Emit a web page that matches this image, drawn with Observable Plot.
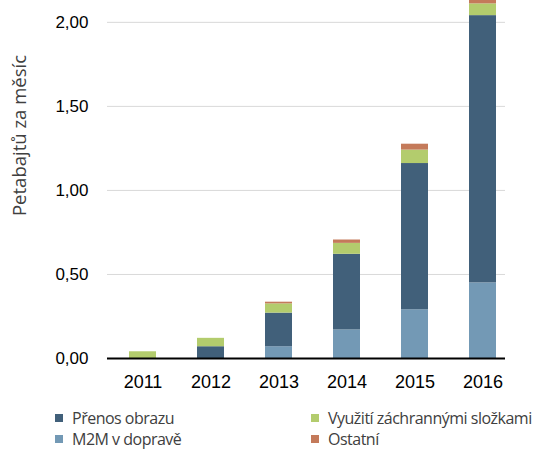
<!DOCTYPE html>
<html>
<head>
<meta charset="utf-8">
<script src="https://cdn.jsdelivr.net/npm/d3@7"></script>
<script src="https://cdn.jsdelivr.net/npm/@observablehq/plot@0.6"></script>
<style>
  html, body { margin: 0; padding: 0; background: #fff; }
  #wrap { position: relative; width: 535px; height: 455px; overflow: hidden; }
  .legend { position: absolute; font-family: "Open Sans", sans-serif; font-size: 16px; letter-spacing: -0.5px; color: #404040; white-space: nowrap; line-height: 18px; }
  .legend .sw { display: inline-block; width: 8px; height: 8px; margin-right: 9px; vertical-align: 2px; }
</style>
</head>
<body>
<div id="wrap"></div>
<script>
const years = ["2011", "2012", "2013", "2014", "2015", "2016"];
const seriesNames = ["M2M v dopravě", "Přenos obrazu", "Využití záchrannými složkami", "Ostatní"];
const m2m      = [0.00, 0.00, 0.07, 0.17, 0.29, 0.45];
const prenos   = [0.00, 0.07, 0.20, 0.45, 0.87, 1.59];
const vyuziti  = [0.04, 0.05, 0.055, 0.065, 0.08, 0.07];
const ostatni  = [0.00, 0.00, 0.01, 0.02, 0.035, 0.04];
const colors   = ["#7399b5", "#41607a", "#b3cc6d", "#c47a5a"];
const yTicks   = [0, 0.5, 1, 1.5, 2];
const yTitle   = "Petabajtů za měsíc";
const legendOrder = [
  {name: "Přenos obrazu", color: colors[1], col: 0, row: 0},
  {name: "M2M v dopravě", color: colors[0], col: 0, row: 1},
  {name: "Využití záchrannými složkami", color: colors[2], col: 1, row: 0},
  {name: "Ostatní", color: colors[3], col: 1, row: 1}
];

const allSeries = [m2m, prenos, vyuziti, ostatni];
const data = [];
years.forEach((y, i) => {
  allSeries.forEach((s, k) => data.push({year: y, series: seriesNames[k], value: s[i]}));
});

const fmt = d => d.toFixed(2).replace(".", ",");

const chart = Plot.plot({
  width: 535,
  height: 395,
  marginTop: 0,
  marginLeft: 107,
  marginRight: 30,
  marginBottom: 37,
  style: {fontFamily: "'Liberation Sans', Arial, sans-serif", fontSize: "17px", color: "#000"},
  x: {domain: years, paddingInner: 0.6, paddingOuter: 0.21, align: 0.71, label: null},
  y: {domain: [0, 2.13], label: null},
  color: {domain: seriesNames, range: colors},
  marks: [
    Plot.ruleY(yTicks.slice(1), {stroke: "#d9d9d9", strokeWidth: 1}),
    Plot.barY(data, Plot.stackY({x: "year", y: "value", fill: "series", order: seriesNames, clip: true})),
    Plot.ruleY([0], {stroke: "#000", strokeWidth: 2}),
    Plot.axisX({tickSize: 0, tickPadding: 17, fontSize: 18, label: null}),
    Plot.axisY({ticks: yTicks, tickFormat: fmt, tickSize: 0, tickPadding: 19, fontSize: 17, label: null}),
    Plot.text([yTitle], {frameAnchor: "left", text: d => d, rotate: -90, textAnchor: "middle", dx: -87, dy: -44,
      fontFamily: "'Open Sans', sans-serif", fontSize: 18.5, fill: "#404040"})
  ]
});

const wrap = document.getElementById("wrap");
wrap.appendChild(chart);

legendOrder.forEach(l => {
  const d = document.createElement("div");
  d.className = "legend";
  d.style.left = (l.col === 0 ? 55 : 311) + "px";
  d.style.top = (l.row === 0 ? 409 : 430) + "px";
  const sw = document.createElement("span");
  sw.className = "sw";
  sw.style.background = l.color;
  d.appendChild(sw);
  d.appendChild(document.createTextNode(l.name));
  wrap.appendChild(d);
});
</script>
</body>
</html>
